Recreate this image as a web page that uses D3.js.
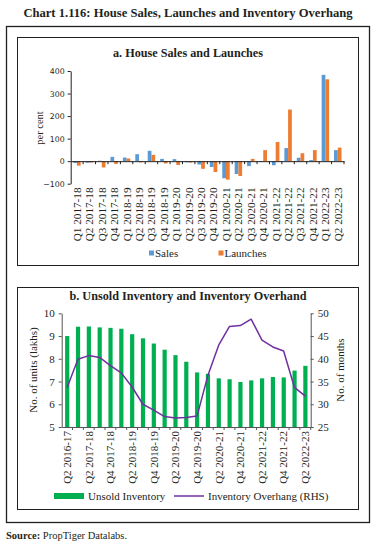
<!DOCTYPE html>
<html>
<head>
<meta charset="utf-8">
<script src="https://cdn.jsdelivr.net/npm/d3@7"></script>
<style>
  body { margin: 0; background: #fff; }
  svg { display: block; font-family: "Liberation Serif", serif; color: #231f20; }
</style>
</head>
<body>
<svg id="chart" width="376" height="549"></svg>
<script>
// ---------------- panel a data
const quartersA = ['Q1 2017-18','Q2 2017-18','Q3 2017-18','Q4 2017-18','Q1 2018-19','Q2 2018-19','Q3 2018-19','Q4 2018-19',
  'Q1 2019-20','Q2 2019-20','Q3 2019-20','Q4 2019-20','Q1 2020-21','Q2 2020-21','Q3 2020-21','Q4 2020-21',
  'Q1 2021-22','Q2 2021-22','Q3 2021-22','Q4 2021-22','Q1 2022-23','Q2 2022-23']
const sales =    [-8, -7, 2, 19, 16, 31, 46, 10, 9, -5, -15, -26, -76, -57, -22, -3, -18, 58, 15, 5, 383, 49]
const launches = [-20, -6, -28, -12, 12, -5, 28, -10, -17, -6, -34, -48, -82, -66, 10, 49, 85, 229, 35, 49, 363, 60]
const yTicksA = [-100, 0, 100, 200, 300, 400]

// ---------------- panel b data
const quartersB = ['Q2 2016-17','Q1 2017-18','Q2 2017-18','Q3 2017-18','Q4 2017-18','Q1 2018-19','Q2 2018-19','Q3 2018-19',
  'Q4 2018-19','Q1 2019-20','Q2 2019-20','Q3 2019-20','Q4 2019-20','Q1 2020-21','Q2 2020-21','Q3 2020-21',
  'Q4 2020-21','Q1 2021-22','Q2 2021-22','Q3 2021-22','Q4 2021-22','Q1 2022-23','Q2 2022-23']
const unsold =   [9.0, 9.41, 9.42, 9.38, 9.36, 9.32, 9.08, 8.9, 8.67, 8.4, 8.16, 7.87, 7.4, 7.34, 7.14, 7.1, 6.98, 7.05, 7.14, 7.2, 7.18, 7.48, 7.69]
const overhang = [33.7, 39.9, 40.7, 40.3, 38.5, 36.9, 33.8, 30.0, 28.7, 27.3, 27.0, 27.1, 27.4, 36.3, 43.0, 47.1, 47.3, 48.7, 44.1, 42.6, 41.7, 33.7, 31.8]
const yTicksL = [5, 6, 7, 8, 9, 10]
const yTicksR = [25, 30, 35, 40, 45, 50]

const blue = '#5b9bd5'
const orange = '#ed7d31'
const green = '#00b050'
const purple = '#7030a0'
const ink = '#231f20'

const svg = d3.select('#chart')

// titles and frames
svg.append('text').attr('x', 188).attr('y', 17).attr('text-anchor', 'middle')
  .attr('font-weight', 'bold').attr('font-size', 12.6).attr('fill', ink)
  .text('Chart 1.116: House Sales, Launches and Inventory Overhang')

svg.append('rect').attr('x', 6.5).attr('y', 26.5).attr('width', 363).attr('height', 496)
  .attr('fill', 'none').attr('stroke', ink).attr('stroke-width', 1.3)
svg.append('rect').attr('x', 17.5).attr('y', 37.5).attr('width', 341).attr('height', 228)
  .attr('fill', 'none').attr('stroke', ink).attr('stroke-width', 1)
svg.append('rect').attr('x', 17.5).attr('y', 287.5).attr('width', 341).attr('height', 222)
  .attr('fill', 'none').attr('stroke', ink).attr('stroke-width', 1)

svg.append('text').attr('x', 6).attr('y', 539).attr('font-size', 10.5).attr('fill', ink)
  .call(t => {
    t.append('tspan').attr('font-weight', 'bold').text('Source:')
    t.append('tspan').text(' PropTiger Datalabs.')
  })

// ================= panel a
const a = svg.append('g')
a.append('text').attr('x', 188).attr('y', 57).attr('text-anchor', 'middle')
  .attr('font-weight', 'bold').attr('font-size', 12.2).attr('fill', ink).text('a. House Sales and Launches')

const xA = d3.scaleBand().domain(quartersA).range([70.7, 344]).paddingInner(0).paddingOuter(0)
const yA = d3.scaleLinear().domain([-100, 400]).range([183.7, 71])
const inner = d3.scaleBand().domain(['s', 'l']).range([xA.bandwidth() * 0.2, xA.bandwidth() * 0.8])

a.selectAll('.sales').data(sales).enter().append('rect')
  .attr('x', (d, i) => xA(quartersA[i]) + inner('s'))
  .attr('width', inner.bandwidth())
  .attr('y', d => yA(Math.max(0, d)))
  .attr('height', d => Math.abs(yA(d) - yA(0)))
  .attr('fill', blue)
a.selectAll('.launch').data(launches).enter().append('rect')
  .attr('x', (d, i) => xA(quartersA[i]) + inner('l'))
  .attr('width', inner.bandwidth())
  .attr('y', d => yA(Math.max(0, d)))
  .attr('height', d => Math.abs(yA(d) - yA(0)))
  .attr('fill', orange)

const yAxisA = a.append('g').attr('transform', 'translate(70.7,0)')
  .call(d3.axisLeft(yA).tickValues(yTicksA).tickSize(3).tickSizeOuter(0))
yAxisA.selectAll('text').attr('font-family', '"DejaVu Sans", sans-serif').attr('font-size', 7.8).attr('fill', ink)
yAxisA.selectAll('line, path').attr('stroke', ink)

const xAxisA = a.append('g').attr('transform', `translate(0,${yA(0)})`)
  .call(d3.axisBottom(xA).tickSize(3).tickSizeOuter(0).tickFormat(''))
xAxisA.selectAll('.tick line').attr('x1', xA.step() / 2).attr('x2', xA.step() / 2)
xAxisA.selectAll('line, path').attr('stroke', ink)

const xLabA = a.append('g').attr('transform', 'translate(0,187.5)')
  .call(d3.axisBottom(xA).tickSize(0))
xLabA.select('.domain').remove()
xLabA.selectAll('text').attr('transform', 'rotate(-90)').attr('text-anchor', 'end')
  .attr('x', 0).attr('y', 0).attr('dy', '0.35em')
  .attr('font-family', '"Liberation Serif", serif').attr('font-size', 11.2).attr('fill', ink)

a.append('text').attr('transform', 'translate(43,128) rotate(-90)').attr('text-anchor', 'middle')
  .attr('font-size', 10.5).attr('fill', ink).text('per cent')

// legend a
const legA = [{ k: 'Sales', c: blue, x: 149 }, { k: 'Launches', c: orange, x: 218.5 }]
legA.forEach(l => {
  a.append('rect').attr('x', l.x).attr('y', 250.5).attr('width', 5).attr('height', 5).attr('fill', l.c)
  a.append('text').attr('x', l.x + 6).attr('y', 256.5).attr('font-size', 11).attr('fill', ink).text(l.k)
})

// ================= panel b
const b = svg.append('g')
b.append('text').attr('x', 188).attr('y', 300).attr('text-anchor', 'middle')
  .attr('font-weight', 'bold').attr('font-size', 12.2).attr('fill', ink).text('b. Unsold Inventory and Inventory Overhand')

const xBc = d3.scaleBand().domain(quartersB).range([61.7, 310.7])
const yL = d3.scaleLinear().domain([5, 10]).range([427, 313.3])
const yR = d3.scaleLinear().domain([25, 50]).range([427, 313.3])

b.selectAll('.unsold').data(unsold).enter().append('rect')
  .attr('x', (d, i) => xBc(quartersB[i]) + xBc.bandwidth() / 2 - 2)
  .attr('width', 4.2)
  .attr('y', d => yL(d))
  .attr('height', d => yL(5) - yL(d))
  .attr('fill', green)

const line = d3.line()
  .x((d, i) => xBc(quartersB[i]) + xBc.bandwidth() / 2)
  .y(d => yR(d))
b.append('path').datum(overhang).attr('d', line)
  .attr('fill', 'none').attr('stroke', purple).attr('stroke-width', 1.5).attr('stroke-linejoin', 'round')

const yAxisL = b.append('g').attr('transform', 'translate(61.7,0)')
  .call(d3.axisLeft(yL).tickValues(yTicksL).tickFormat(d3.format('d')).tickSize(3).tickSizeOuter(0).tickPadding(4))
const yAxisR = b.append('g').attr('transform', 'translate(310.7,0)')
  .call(d3.axisRight(yR).tickValues(yTicksR).tickFormat(d3.format('d')).tickSize(3).tickSizeOuter(0).tickPadding(4))
const xAxisB = b.append('g').attr('transform', 'translate(0,427)')
  .call(d3.axisBottom(xBc).tickSize(3).tickSizeOuter(0).tickFormat(''))
xAxisB.selectAll('.tick line').attr('x1', xBc.step() / 2).attr('x2', xBc.step() / 2)
;[yAxisL, yAxisR, xAxisB].forEach(g => {
  g.selectAll('line, path').attr('stroke', '#555')
  g.selectAll('text').attr('font-family', '"Liberation Serif", serif').attr('font-size', 11).attr('fill', ink)
})

const xLabB = b.append('g').attr('transform', 'translate(0,431)')
  .call(d3.axisBottom(xBc).tickSize(0).tickValues(quartersB.filter((d, i) => i % 2 === 0)))
xLabB.select('.domain').remove()
xLabB.selectAll('text').attr('transform', 'rotate(-90)').attr('text-anchor', 'end')
  .attr('x', 0).attr('y', 0).attr('dy', '0.35em')
  .attr('font-family', '"Liberation Serif", serif').attr('font-size', 11).attr('fill', ink)

b.append('text').attr('transform', 'translate(37,370) rotate(-90)').attr('text-anchor', 'middle')
  .attr('font-size', 11).attr('fill', ink).text('No. of units (lakhs)')
b.append('text').attr('transform', 'translate(344,370) rotate(-90)').attr('text-anchor', 'middle')
  .attr('font-size', 11).attr('fill', ink).text('No. of months')

// legend b
b.append('rect').attr('x', 54).attr('y', 493).attr('width', 30).attr('height', 6).attr('fill', green)
b.append('text').attr('x', 88).attr('y', 499.5).attr('font-size', 11).attr('fill', ink).text('Unsold Inventory')
b.append('line').attr('x1', 174).attr('x2', 204).attr('y1', 496).attr('y2', 496)
  .attr('stroke', purple).attr('stroke-width', 1.5)
b.append('text').attr('x', 208).attr('y', 499.5).attr('font-size', 11).attr('fill', ink).text('Inventory Overhang (RHS)')
</script>
</body>
</html>
